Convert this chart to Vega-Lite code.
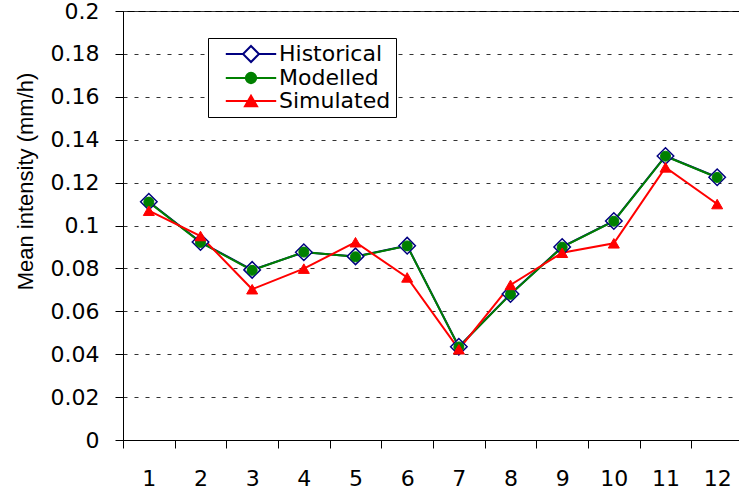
{
  "$schema": "https://vega.github.io/schema/vega-lite/v6.json",
  "width": 620,
  "height": 429,
  "autosize": "none",
  "padding": {"left": 123, "top": 11, "right": 0, "bottom": 49},
  "background": "white",
  "config": {"view": {"stroke": "black", "strokeWidth": 1}, "font": "DejaVu Sans"},
  "data": {"values": [
    {"month": 1, "series": "Historical", "value": 0.1111},
    {"month": 2, "series": "Historical", "value": 0.0923},
    {"month": 3, "series": "Historical", "value": 0.0793},
    {"month": 4, "series": "Historical", "value": 0.0875},
    {"month": 5, "series": "Historical", "value": 0.0856},
    {"month": 6, "series": "Historical", "value": 0.0906},
    {"month": 7, "series": "Historical", "value": 0.0435},
    {"month": 8, "series": "Historical", "value": 0.0681},
    {"month": 9, "series": "Historical", "value": 0.0900},
    {"month": 10, "series": "Historical", "value": 0.1021},
    {"month": 11, "series": "Historical", "value": 0.1324},
    {"month": 12, "series": "Historical", "value": 0.1225},
    {"month": 1, "series": "Modelled", "value": 0.1109},
    {"month": 2, "series": "Modelled", "value": 0.0921},
    {"month": 3, "series": "Modelled", "value": 0.0791},
    {"month": 4, "series": "Modelled", "value": 0.0876},
    {"month": 5, "series": "Modelled", "value": 0.0854},
    {"month": 6, "series": "Modelled", "value": 0.0905},
    {"month": 7, "series": "Modelled", "value": 0.0434},
    {"month": 8, "series": "Modelled", "value": 0.0679},
    {"month": 9, "series": "Modelled", "value": 0.0899},
    {"month": 10, "series": "Modelled", "value": 0.1020},
    {"month": 11, "series": "Modelled", "value": 0.1323},
    {"month": 12, "series": "Modelled", "value": 0.1224},
    {"month": 1, "series": "Simulated", "value": 0.1069},
    {"month": 2, "series": "Simulated", "value": 0.0951},
    {"month": 3, "series": "Simulated", "value": 0.0703},
    {"month": 4, "series": "Simulated", "value": 0.0799},
    {"month": 5, "series": "Simulated", "value": 0.0922},
    {"month": 6, "series": "Simulated", "value": 0.0758},
    {"month": 7, "series": "Simulated", "value": 0.0423},
    {"month": 8, "series": "Simulated", "value": 0.0723},
    {"month": 9, "series": "Simulated", "value": 0.0873},
    {"month": 10, "series": "Simulated", "value": 0.0917},
    {"month": 11, "series": "Simulated", "value": 0.1271},
    {"month": 12, "series": "Simulated", "value": 0.1100}
  ]},
  "encoding": {
    "x": {
      "field": "month", "type": "ordinal",
      "scale": {"type": "band", "paddingInner": 0, "paddingOuter": 0},
      "axis": {
        "title": null, "labelAngle": 0, "tickBand": "extent", "tickSize": 8,
        "tickColor": "black", "domainColor": "black", "labelFont": "DejaVu Sans",
        "labelFontSize": 22, "labelColor": "black", "labelPadding": 20, "grid": false
      }
    },
    "y": {
      "field": "value", "type": "quantitative",
      "scale": {"domain": [0, 0.2], "nice": false, "zero": true},
      "axis": {
        "title": "Mean intensity (mm/h)",
        "values": [0, 0.02, 0.04, 0.06, 0.08, 0.1, 0.12, 0.14, 0.16, 0.18, 0.2],
        "format": ".2~f", "tickSize": 8, "tickColor": "black", "domainColor": "black",
        "labelFont": "DejaVu Sans", "labelFontSize": 22, "labelColor": "black", "labelPadding": 16,
        "grid": true, "gridDash": [4, 7], "gridColor": "#333333", "gridWidth": 1,
        "titleFont": "Liberation Sans", "titleFontSize": 22, "titleFontWeight": "normal",
        "titleColor": "black", "titleX": -98, "titleY": 170, "titleAngle": -90,
        "titleBaseline": "middle", "titleAlign": "center"
      }
    }
  },
  "layer": [
    {
      "mark": {"type": "line"},
      "encoding": {
        "color": {"field": "series", "type": "nominal",
          "scale": {"domain": ["Historical", "Modelled", "Simulated"], "range": ["#000080", "#008000", "#ff0000"]},
          "legend": {
            "title": null, "orient": "none", "legendX": 85, "legendY": 27, "padding": 5,
            "strokeColor": "black", "fillColor": "white", "labelFont": "DejaVu Sans",
            "labelFontSize": 22, "labelColor": "black", "symbolSize": 196, "symbolOffset": 27,
            "labelOffset": 17, "rowPadding": 1, "symbolStrokeWidth": 1.5, "symbolType": "circle",
            "encode": {"symbols": {"update": {
              "shape": {"signal": "datum.value === 'Historical' ? 'M-3.6,0L-1.14,0M1.14,0L3.6,0M0,-1.14L1.14,0L0,1.14L-1.14,0Z' : datum.value === 'Modelled' ? 'M-3.6,0L3.6,0M-0.74,0A0.74,0.74 0 1,0 0.74,0A0.74,0.74 0 1,0 -0.74,0Z' : 'M-3.6,0L3.6,0M0,-0.75L0.86,0.75L-0.86,0.75Z'"},
              "fill": {"signal": "datum.value === 'Historical' ? 'white' : datum.value === 'Modelled' ? '#008000' : '#ff0000'"},
              "fillOpacity": {"value": 1},
              "size": {"value": 196},
              "strokeWidth": {"value": 1.5}
            }}}
          }},
        "strokeWidth": {"field": "series", "type": "ordinal",
          "scale": {"domain": ["Historical", "Modelled", "Simulated"], "range": [2, 2, 1.5]},
          "legend": null}
      }
    },
    {
      "transform": [{"filter": "datum.series === 'Historical'"}],
      "mark": {"type": "point", "shape": "diamond", "filled": false, "fill": "white", "fillOpacity": 1, "stroke": "#000080", "strokeWidth": 1.5, "opacity": 1, "size": 272}
    },
    {
      "transform": [{"filter": "datum.series === 'Modelled'"}],
      "mark": {"type": "point", "shape": "circle", "filled": true, "fill": "#008000", "stroke": "#008000", "strokeWidth": 1, "opacity": 1, "size": 100}
    },
    {
      "transform": [{"filter": "datum.series === 'Simulated'"}],
      "mark": {"type": "point", "shape": "triangle-up", "filled": true, "fill": "#ff0000", "stroke": "#ff0000", "strokeWidth": 1, "opacity": 1, "size": 121}
    }
  ]
}
